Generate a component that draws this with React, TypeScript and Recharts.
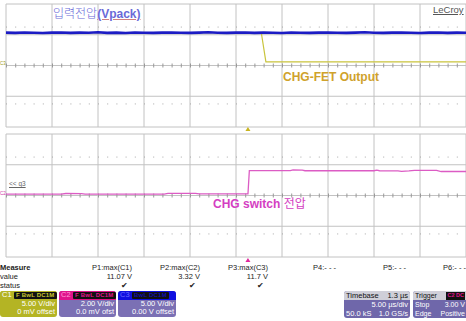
import React from "react";
import { LineChart, Line, XAxis, YAxis, CartesianGrid, ReferenceLine, ReferenceDot } from "recharts";

// time in µs (5 µs/div, 10 div), volts
const timeTicks = [0, 5, 10, 15, 20, 25, 30, 35, 40, 45, 50];
const topVoltTicks = [-20, -15, -10, -5, 0, 5, 10, 15, 20];
const bottomVoltTicks = [-8, -6, -4, -2, 0, 2, 4, 6, 8];
const triggerTime = 26.3;

const vpackTime = [0, 1, 2, 3, 4, 5, 6, 7, 8, 9, 10, 11, 12, 13, 14, 15, 16, 17, 18, 19, 20, 21, 22, 23, 24, 25, 26, 27, 28, 29, 30, 31, 32, 33, 34, 35, 36, 37, 38, 39, 40, 41, 42, 43, 44, 45, 46, 47, 48, 49, 50];
const vpackVolts = [10.7, 10.6, 10.75, 10.65, 10.55, 10.7, 10.75, 10.6, 10.7, 10.65, 10.8, 10.6, 10.7, 10.55, 10.75, 10.65, 10.6, 10.7, 10.75, 10.65, 10.6, 10.7, 10.8, 10.65, 10.6, 10.7, 10.75, 10.6, 10.7, 10.65, 10.55, 10.75, 10.65, 10.6, 10.7, 10.75, 10.65, 10.6, 10.7, 10.8, 10.65, 10.6, 10.7, 10.75, 10.65, 10.55, 10.7, 10.75, 10.6, 10.7, 10.65];

const fetTime = [0, 27.75, 28.25, 50];
const fetVolts = [10.65, 10.65, 1.15, 1.15];

const switchTime = [0, 6, 6.5, 8.2, 8.6, 17.2, 17.6, 20.6, 21, 26.3, 26.45, 30.9, 31.2, 32.2, 32.5, 40, 40.3, 40.6, 42.6, 43, 43.8, 44.4, 46.8, 47.3, 50];
const switchVolts = [0.18, 0.18, 0.26, 0.24, 0.18, 0.18, 0.28, 0.28, 0.2, 0.2, 3.24, 3.24, 3.32, 3.3, 3.22, 3.22, 3.3, 3.22, 3.2, 3.14, 3.2, 3.28, 3.26, 3.12, 3.12];

const vpackData = vpackTime.map((t, i) => ({ t, v: vpackVolts[i] }));
const fetData = fetTime.map((t, i) => ({ t, v: fetVolts[i] }));
const switchData = switchTime.map((t, i) => ({ t, v: switchVolts[i] }));

const GRID = "#c2c2c2";
const SANS = '"Liberation Sans", Arial, "Noto Sans CJK KR", sans-serif';
const KR = '"Noto Sans CJK KR", "Liberation Sans", sans-serif';

const Triangle = (color: string, dy: number) => (props: any) => {
  const { cx, cy } = props;
  const y = cy + dy;
  return <path d={`M${cx - 2.5},${y + 4} L${cx + 2.5},${y + 4} L${cx},${y} Z`} fill={color} />;
};

function Panel({ ticks, children, marker }: { ticks: number[]; children: React.ReactNode; marker: React.ReactNode }) {
  const lo = ticks[0];
  const hi = ticks[ticks.length - 1];
  const step = ticks[1] - ticks[0];
  return (
    <LineChart width={466} height={134} margin={{ top: 4, right: 0, bottom: 7, left: 6 }}>
      <CartesianGrid stroke={GRID} strokeWidth={1} />
      <XAxis type="number" dataKey="t" domain={[0, 50]} ticks={timeTicks} hide allowDuplicatedCategory={false} />
      <YAxis type="number" domain={[lo, hi]} ticks={ticks} hide />
      <ReferenceLine y={hi - step * 1.5} stroke="#a8a8a8" strokeDasharray="1 8.2" />
      <ReferenceLine y={lo + step * 1.5} stroke="#a8a8a8" strokeDasharray="1 8.2" />
      <ReferenceLine y={0} stroke="#999" strokeWidth={4} strokeDasharray="1 8.2" />
      {children}
      {marker}
    </LineChart>
  );
}

function ChannelBox({ left, width, head, headBg, tag, tagColor, body, lines }: any) {
  return (
    <div style={{ position: "absolute", left, top: 291, width, height: 26, borderRadius: 3, overflow: "hidden", background: body, fontFamily: SANS, fontSize: 7.5, color: "#fff" }}>
      <div style={{ height: 8.5, background: headBg, display: "flex", alignItems: "center", paddingLeft: 2 }}>
        <span style={{ width: 12, color: head.color, lineHeight: "8px" }}>{head.text}</span>
        <span style={{ background: "#111", color: tagColor, fontSize: 6, lineHeight: "7px", padding: "0 2px", borderRadius: 1, fontWeight: 700, letterSpacing: 0.2 }}>{tag}</span>
      </div>
      {lines.map((l: string, i: number) => (
        <div key={i} style={{ textAlign: "right", paddingRight: 2, lineHeight: "8.7px" }}>{l}</div>
      ))}
    </div>
  );
}

export default function App() {
  const measureCols = [
    { name: "P1:max(C1)", value: "11.07 V", ok: true, right: 334 },
    { name: "P2:max(C2)", value: "3.32 V", ok: true, right: 266 },
    { name: "P3:max(C3)", value: "11.7 V", ok: true, right: 198 },
    { name: "P4:- - -", value: "", ok: false, right: 130 },
    { name: "P5:- - -", value: "", ok: false, right: 60 },
    { name: "P6:- - -", value: "", ok: false, right: 0 },
  ];
  return (
    <div style={{ position: "absolute", left: 0, top: 0, width: 466, height: 321, background: "#fff", overflow: "hidden", fontFamily: SANS }}>
      <div style={{ position: "absolute", left: 0, top: 0 }}>
        <Panel ticks={topVoltTicks} marker={<ReferenceDot x={triggerTime} y={-20} r={3} ifOverflow="visible" shape={Triangle("#c8b41e", 0)} />}>
          <Line data={fetData} dataKey="v" type="linear" stroke="#c9c43c" strokeWidth={1.2} dot={false} isAnimationActive={false} />
          <Line data={vpackData} dataKey="v" type="linear" stroke="#1c1cc4" strokeWidth={2.6} dot={false} isAnimationActive={false} />
        </Panel>
      </div>
      <div style={{ position: "absolute", left: 0, top: 130 }}>
        <Panel ticks={bottomVoltTicks} marker={<ReferenceDot x={triggerTime} y={-8} r={3} ifOverflow="visible" shape={Triangle("#e0289c", 1)} />}>
          <Line data={switchData} dataKey="v" type="linear" stroke="#dc5cc4" strokeWidth={1.3} dot={false} isAnimationActive={false} />
        </Panel>
      </div>

      {/* annotations */}
      <div style={{ position: "absolute", left: 53, top: 6, fontSize: 12, color: "#6a6ad8", whiteSpace: "nowrap", lineHeight: "14px" }}>
        <span style={{ fontFamily: KR, fontWeight: 300 }}>입력전압</span>
        <span style={{ fontWeight: 700, textDecoration: "underline", textDecorationColor: "#d08080" }}>(Vpack)</span>
      </div>
      <div style={{ position: "absolute", left: 433, top: 4, fontSize: 9.5, color: "#555", textDecoration: "underline", lineHeight: "12px" }}>LeCroy</div>
      <div style={{ position: "absolute", left: 283, top: 70, fontSize: 12, fontWeight: 700, color: "#cfa22c", lineHeight: "14px", whiteSpace: "nowrap" }}>CHG-FET Output</div>
      <div style={{ position: "absolute", left: 213, top: 196, fontSize: 12, color: "#d43ec2", lineHeight: "14px", whiteSpace: "nowrap" }}>
        <span style={{ fontWeight: 700 }}>CHG switch </span>
        <span style={{ fontFamily: KR }}>전압</span>
      </div>
      <div style={{ position: "absolute", left: 9, top: 180, fontSize: 6.5, color: "#666", textDecoration: "underline", lineHeight: "8px" }}>&lt;&lt; q3</div>
      <div style={{ position: "absolute", left: 0, top: 61, fontSize: 4.5, color: "#9a9a20", lineHeight: "6px" }}>C3</div>
      <div style={{ position: "absolute", left: 0, top: 191, fontSize: 4.5, color: "#d03aa8", lineHeight: "6px" }}>C2</div>

      {/* measure table */}
      <div style={{ position: "absolute", left: 0, top: 263, fontSize: 7.5, color: "#222", lineHeight: "9px" }}>
        <div style={{ fontWeight: 700 }}>Measure</div>
        <div>value</div>
        <div>status</div>
      </div>
      {measureCols.map((c) => (
        <div key={c.name} style={{ position: "absolute", right: c.right, top: 263, fontSize: 7.5, color: "#222", lineHeight: "9px", textAlign: "right", whiteSpace: "nowrap" }}>
          <div>{c.name}</div>
          <div>{c.value || "\u00a0"}</div>
          <div style={{ paddingRight: 4 }}>{c.ok ? "✔" : "\u00a0"}</div>
        </div>
      ))}

      {/* channel boxes */}
      <ChannelBox left={0} width={57} head={{ text: "C1", color: "#fff" }} headBg="#b4b424" tag="F BwL DC1M" tagColor="#c8c830" body="#b4b424" lines={["5.00 V/div", "0 mV offset"]} />
      <ChannelBox left={59} width={57} head={{ text: "C2", color: "#ff9ad8" }} headBg="#e0148c" tag="F BwL DC1M" tagColor="#e0148c" body="#7b70b4" lines={["2.00 V/div", "0.0 mV ofst"]} />
      <ChannelBox left={118} width={58} head={{ text: "C3", color: "#6a6aff" }} headBg="#1010e0" tag="BwL DC1M" tagColor="#1010b0" body="#7b70b4" lines={["5.00 V/div", "0.00 V offset"]} />

      {/* timebase / trigger */}
      <div style={{ position: "absolute", left: 344, top: 291, width: 66, height: 27, borderRadius: 3, overflow: "hidden", background: "#6f67aa", fontSize: 7.5, color: "#fff" }}>
        <div style={{ height: 9, background: "#cfcfd8", color: "#111", display: "flex", justifyContent: "space-between", padding: "0 2px", lineHeight: "9px" }}>
          <span>Timebase</span><span>1.3 µs</span>
        </div>
        <div style={{ textAlign: "right", paddingRight: 2, lineHeight: "9px" }}>5.00 µs/div</div>
        <div style={{ display: "flex", justifyContent: "space-between", padding: "0 2px", lineHeight: "9px" }}>
          <span>50.0 kS</span><span>1.0 GS/s</span>
        </div>
      </div>
      <div style={{ position: "absolute", left: 413, top: 291, width: 53, height: 27, borderRadius: "3px 0 0 3px", overflow: "hidden", background: "#6f67aa", fontSize: 7, color: "#fff" }}>
        <div style={{ height: 9, background: "#cfcfd8", color: "#111", display: "flex", justifyContent: "space-between", padding: "0 1px 0 2px", lineHeight: "9px" }}>
          <span>Trigger</span>
          <span style={{ background: "#111", color: "#e0148c", fontSize: 5.5, lineHeight: "7px", marginTop: 1, padding: "0 1px", fontWeight: 700 }}>C2 DC</span>
        </div>
        <div style={{ display: "flex", justifyContent: "space-between", padding: "0 1px 0 2px", lineHeight: "9px" }}>
          <span>Stop</span><span>3.00 V</span>
        </div>
        <div style={{ display: "flex", justifyContent: "space-between", padding: "0 1px 0 2px", lineHeight: "9px" }}>
          <span>Edge</span><span>Positive</span>
        </div>
      </div>
    </div>
  );
}
